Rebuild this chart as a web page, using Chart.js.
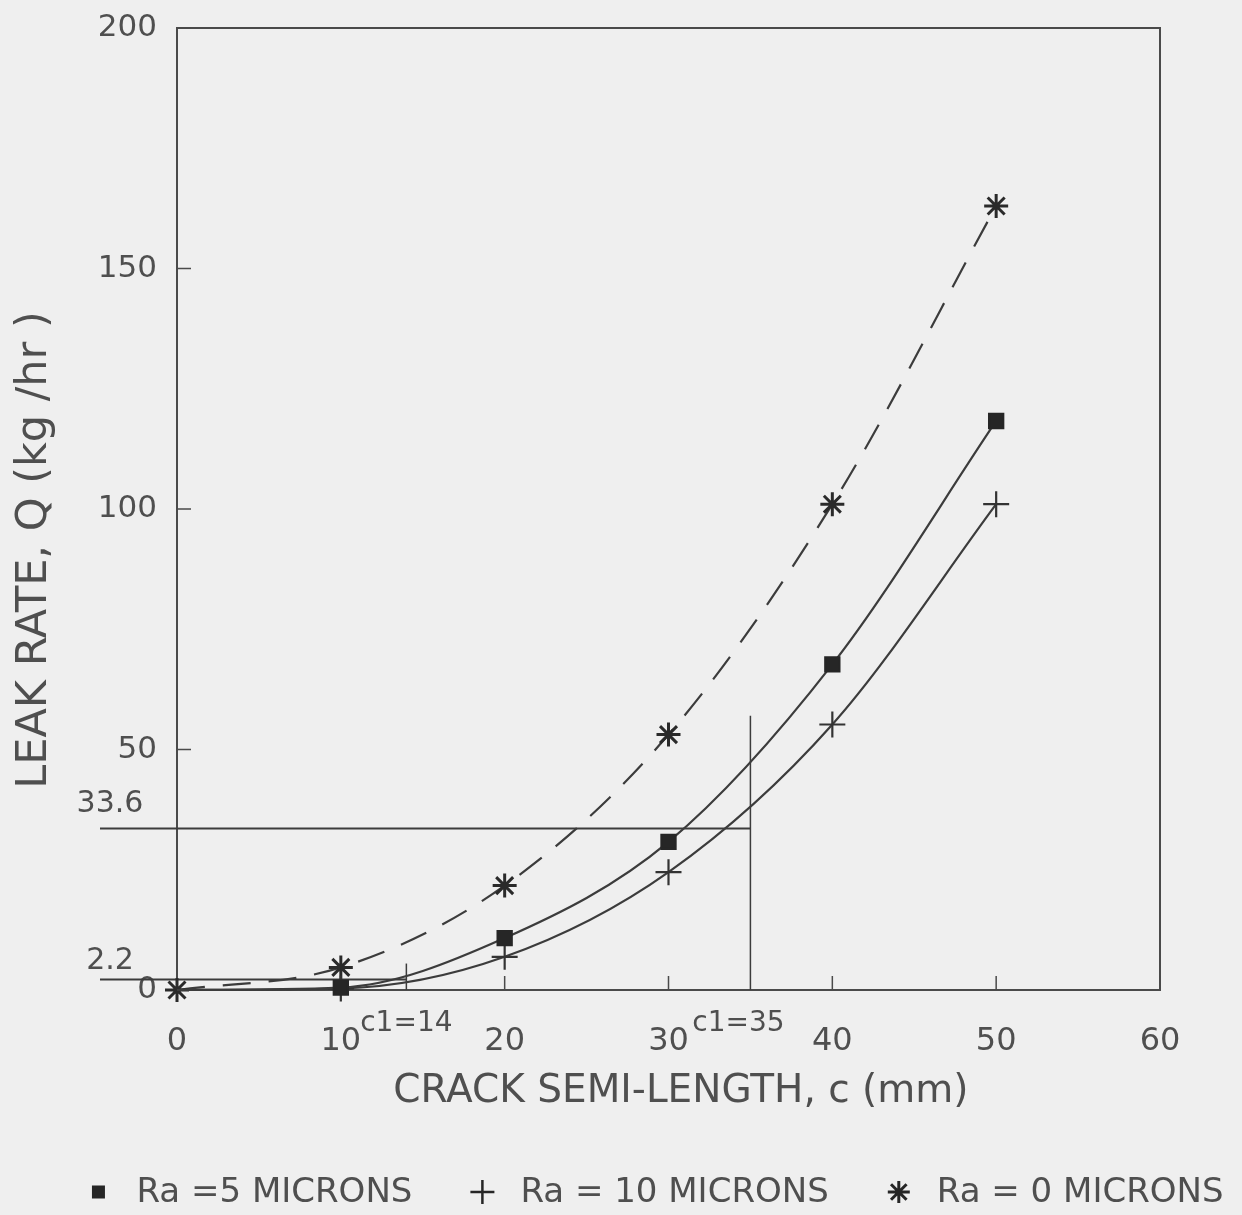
<!DOCTYPE html>
<html><head><meta charset="utf-8">
<script src="https://cdn.jsdelivr.net/npm/chart.js@4.4.1/dist/chart.umd.min.js"></script>
<style>
html,body{margin:0;padding:0;background:#efefef;}
#wrap{width:1242px;height:1215px;position:relative;}
</style></head><body>
<div id="wrap"><canvas id="c" width="1242" height="1215"></canvas></div>
<script>
// ---- data ----
const crackLength = [0, 10, 20, 30, 40, 50];
const leakRa5  = [0, 0.5, 10.8, 30.8, 67.7, 118.3];
const leakRa10 = [0, 0.3, 6.9, 24.5, 55.2, 101];
const leakRa0  = [0, 4.7, 21.7, 53.1, 101, 163];
const seriesLabels = ['Ra =5 MICRONS', 'Ra = 10 MICRONS', 'Ra = 0 MICRONS'];
const xTickValues = [0, 10, 20, 30, 40, 50, 60];
const yTickValues = [0, 50, 100, 150, 200];
// reference construction lines
const refLeak = [33.6, 2.2];
const refLeakLabels = ['33.6', '2.2'];
const refCrack = [35, 14];
const refCrackLabels = ['c1=35', 'c1=14'];
const refVerticalTop = [57, 5.5];
const refLineStartCrack = -4.7;   // horizontal lines start left of the axis
const xTitle = '  CRACK SEMI-LENGTH, c (mm)';
const yTitle = 'LEAK RATE, Q (kg /hr )      ';

const INK = '#3c3c3c';
const TEXT = '#4f4f4f';
const FONT = '"DejaVu Sans", sans-serif';
const MARK = '#262626';

const pts = (ys) => crackLength.map((x, i) => ({x, y: ys[i]}));
const hideOrigin = (r) => (ctx) => (ctx.raw && ctx.raw.x === 0 ? 0 : r);

const refDatasets = [];
refLeak.forEach((v, i) => {
  refDatasets.push({
    label: '_ref', data: [{x: refLineStartCrack, y: v}, {x: refCrack[i], y: v}],
    borderColor: INK, borderWidth: 2, pointRadius: 0, clip: false, showLine: true, tension: 0
  });
  refDatasets.push({
    label: '_ref', data: [{x: refCrack[i], y: 0}, {x: refCrack[i], y: refVerticalTop[i]}],
    borderColor: INK, borderWidth: 1.5, pointRadius: 0, clip: false, showLine: true, tension: 0
  });
});

function drawMarker(ctx, style, cx, cy) {
  ctx.save();
  ctx.strokeStyle = MARK; ctx.fillStyle = MARK;
  if (style === 'rect') {
    ctx.fillRect(cx - 6.5, cy - 6.5, 13, 13);
  } else if (style === 'cross') {
    ctx.lineWidth = 2.5;
    ctx.beginPath();
    ctx.moveTo(cx - 12, cy); ctx.lineTo(cx + 12, cy);
    ctx.moveTo(cx, cy - 12); ctx.lineTo(cx, cy + 12);
    ctx.stroke();
  } else {
    ctx.lineWidth = 3;
    ctx.beginPath();
    for (let k = 0; k < 4; k++) {
      const a = k * Math.PI / 4;
      ctx.moveTo(cx - 11 * Math.cos(a), cy - 11 * Math.sin(a));
      ctx.lineTo(cx + 11 * Math.cos(a), cy + 11 * Math.sin(a));
    }
    ctx.stroke();
  }
  ctx.restore();
}

const framePlugin = {
  id: 'frame',
  beforeDatasetsDraw(chart) {
    const {ctx, chartArea: a, scales: {x, y}} = chart;
    ctx.save();
    ctx.strokeStyle = '#4a4a4a';
    ctx.lineWidth = 2;
    ctx.strokeRect(a.left, a.top, a.right - a.left, a.bottom - a.top);
    ctx.lineWidth = 1.5;
    ctx.beginPath();
    yTickValues.forEach(v => { const py = y.getPixelForValue(v); ctx.moveTo(a.left, py); ctx.lineTo(a.left + 14, py); });
    xTickValues.forEach(v => { const px = x.getPixelForValue(v); ctx.moveTo(px, a.bottom); ctx.lineTo(px, a.bottom - 14); });
    ctx.stroke();
    ctx.restore();
  },
  afterDraw(chart) {
    const {ctx, chartArea: a, scales: {x, y}} = chart;
    ctx.save();
    ctx.fillStyle = TEXT;
    ctx.textAlign = 'center';
    ctx.textBaseline = 'middle';
    ctx.font = '30px ' + FONT;
    refLeakLabels.forEach((t, i) => {
      ctx.fillText(t, 110, y.getPixelForValue(refLeak[i]) - (i === 0 ? 24 : 18));
    });
    ctx.font = '28px ' + FONT;
    refCrackLabels.forEach((t, i) => {
      ctx.fillText(t, x.getPixelForValue(refCrack[i]) - (i === 0 ? 12 : 0), a.bottom + 34);
    });

    // legend row (series labels and marker styles come from the datasets)
    const items = chart.data.datasets.filter(d => d.label !== '_ref');
    ctx.font = '34px ' + FONT;
    ctx.textAlign = 'left';
    const markerGap = 38, itemGap = 70, centerX = 661, rowY = 1192;
    const widths = items.map(d => ctx.measureText(d.label).width);
    const total = widths.reduce((s, w) => s + w + markerGap, 0) + itemGap * (items.length - 1);
    let cx = centerX - total / 2;
    items.forEach((d, i) => {
      drawMarker(ctx, d.pointStyle, cx, rowY);
      ctx.fillStyle = TEXT;
      ctx.fillText(d.label, cx + markerGap, rowY + 1);
      cx += markerGap + widths[i] + itemGap;
    });
    ctx.restore();
  }
};

new Chart(document.getElementById('c'), {
  type: 'scatter',
  data: {
    datasets: [
      { label: seriesLabels[0], data: pts(leakRa5), showLine: true, cubicInterpolationMode: 'monotone', clip: false,
        borderColor: INK, borderWidth: 2.2, pointStyle: 'rect', pointRadius: hideOrigin(10),
        pointBackgroundColor: MARK, pointBorderColor: MARK, backgroundColor: MARK },
      { label: seriesLabels[1], data: pts(leakRa10), showLine: true, cubicInterpolationMode: 'monotone', clip: false,
        borderColor: INK, borderWidth: 2.2, pointStyle: 'cross', pointRadius: hideOrigin(13),
        pointBorderWidth: 2.2, pointBorderColor: '#333' },
      { label: seriesLabels[2], data: pts(leakRa0), showLine: true, cubicInterpolationMode: 'monotone', clip: false,
        borderColor: INK, borderWidth: 2.2, borderDash: [28, 18], pointStyle: 'star', pointRadius: 12,
        pointBorderWidth: 3, pointBorderColor: '#2a2a2a' },
      ...refDatasets
    ]
  },
  options: {
    responsive: false,
    animation: false,
    events: [],
    layout: { padding: { left: 0, right: 0, top: 28, bottom: 0 } },
    scales: {
      x: {
        type: 'linear', min: 0, max: 60,
        afterBuildTicks: (s) => { s.ticks = xTickValues.map(v => ({value: v})); },
        ticks: { color: TEXT, font: { family: FONT, size: 32 }, padding: 32 },
        grid: { display: false, drawTicks: false },
        border: { display: false },
        title: { display: true, text: xTitle, color: TEXT, font: { family: FONT, size: 39 }, padding: { top: 0, bottom: 100 } },
        afterFit: (s) => { s.height = 1215 - 990; }
      },
      y: {
        type: 'linear', min: 0, max: 200,
        afterBuildTicks: (s) => { s.ticks = yTickValues.map(v => ({value: v})); },
        ticks: { color: TEXT, font: { family: FONT, size: 31 }, padding: 20 },
        grid: { display: false, drawTicks: false },
        border: { display: false },
        title: { display: true, text: yTitle, color: TEXT, font: { family: FONT, size: 43 }, padding: { top: 9, bottom: 0 } },
        afterFit: (s) => { s.width = 177; s.paddingTop = 0; s.paddingBottom = 0; }
      },
      yRight: {
        position: 'right', display: true,
        ticks: { display: false }, grid: { display: false }, border: { display: false },
        afterFit: (s) => { s.width = 82; s.paddingTop = 0; s.paddingBottom = 0; }
      }
    },
    plugins: {
      legend: { display: false },
      tooltip: { enabled: false }
    }
  },
  plugins: [framePlugin]
});
</script>
</body></html>
